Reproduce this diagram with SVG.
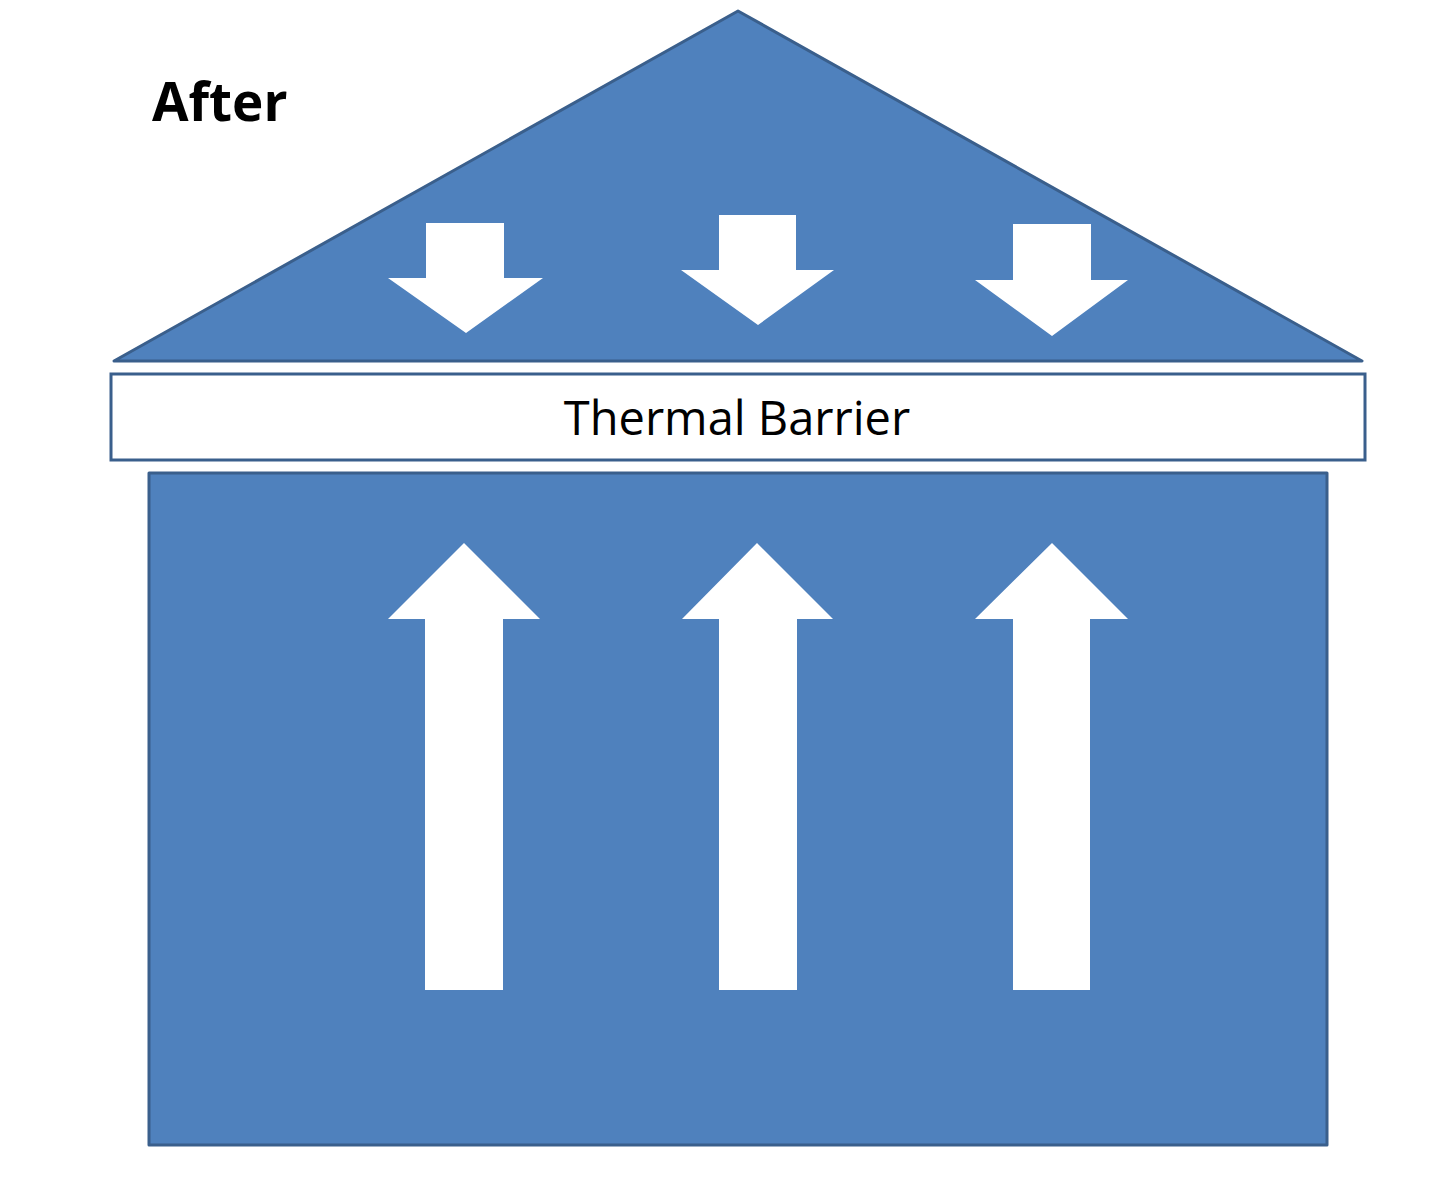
<svg xmlns="http://www.w3.org/2000/svg" width="1430" height="1186" viewBox="0 0 1430 1186">
<style>
.shape{fill:#4f81bd;stroke:#3a5f8c;stroke-width:3;stroke-linejoin:round}
.arrow{fill:#ffffff;stroke:none}
.label{font-family:"Open Sans","Liberation Sans",sans-serif;fill:#000}
</style>
<rect width="1430" height="1186" fill="#ffffff"/>
<g id="title">
<text class="label" x="152" y="121" font-size="53" font-weight="bold">After</text>
</g>
<g id="roof">
<polygon class="shape" points="738,11 1362,361 114,361"/>
</g>
<g id="barrier">
<rect x="111" y="374" width="1254" height="86" fill="#ffffff" stroke="#3a5f8c" stroke-width="3"/>
<text class="label" x="737" y="435" font-size="47" text-anchor="middle">Thermal Barrier</text>
</g>
<g id="body">
<rect class="shape" x="149" y="473" width="1178" height="672"/>
</g>
<g id="connectors">
<polygon class="arrow" points="426,223 504,223 504,278 543,278 466,333 388,278 426,278"/>
<polygon class="arrow" points="719,215 796,215 796,270 834,270 758,325 681,270 719,270"/>
<polygon class="arrow" points="1013,224 1091,224 1091,280 1128,280 1052,336 975,280 1013,280"/>
<polygon class="arrow" points="464,543 540,619 503,619 503,990 425,990 425,619 388,619"/>
<polygon class="arrow" points="757,543 833,619 797,619 797,990 719,990 719,619 682,619"/>
<polygon class="arrow" points="1052,543 1128,619 1090,619 1090,990 1013,990 1013,619 975,619"/>
</g>
</svg>
